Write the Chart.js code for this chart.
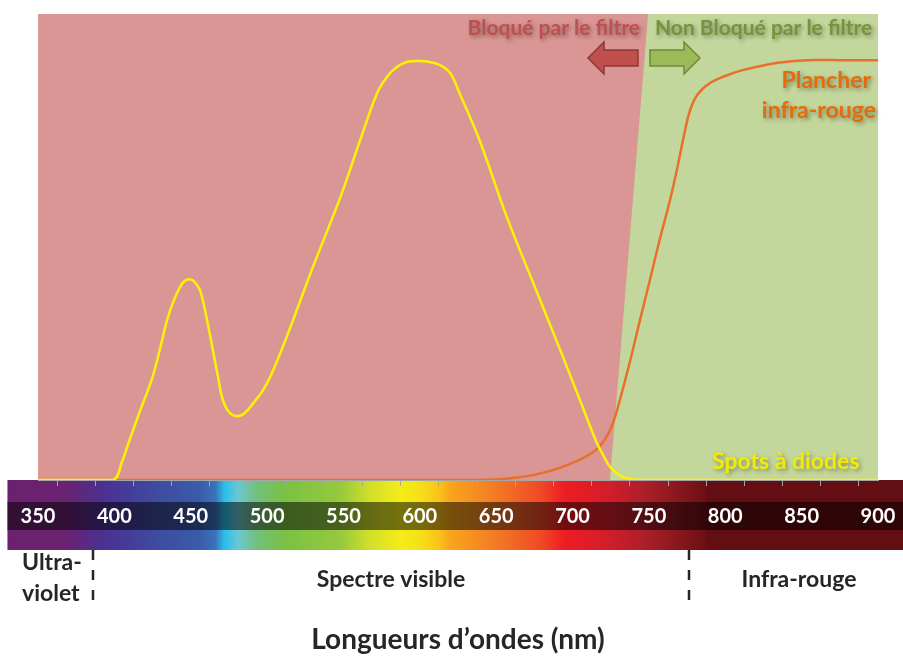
<!DOCTYPE html>
<html>
<head>
<meta charset="utf-8">
<script src="https://cdn.jsdelivr.net/npm/chart.js@4/dist/chart.umd.min.js"></script>
<style>
  html, body { margin: 0; padding: 0; background: #fff; }
  canvas { display: block; }
</style>
</head>
<body>
<canvas id="chart" width="903" height="660"></canvas>
<script>
// wavelengths (nm) and relative intensity
const ledNm = [350, 399, 405, 410, 417, 425, 430, 434.5, 439, 443, 446, 449, 452, 456, 460, 464.5, 468, 471, 475, 480, 485.5, 491, 497, 502, 512, 530, 548, 561, 572, 578.5, 585, 591.5, 599.5, 606.5, 613, 620, 626, 639, 657, 673.5, 694, 705, 716, 720, 724.5, 733, 741, 749, 900];
const ledVal = [0, 0, 3.9, 8.6, 15, 22.1, 28.3, 34.3, 38.6, 41.4, 42.7, 43.1, 42.7, 40.8, 35.4, 27.9, 21.9, 17.2, 14.6, 13.7, 14.4, 16.5, 19.1, 22.1, 30, 45.7, 60.7, 73, 83, 86.5, 88.6, 89.7, 89.9, 89.7, 89.1, 87.3, 83, 73, 56.4, 42.9, 26.2, 17, 7.9, 5.4, 2.8, 0.6, 0.1, 0, 0];

const irNm = [350, 639, 665.5, 685, 703, 714.5, 721, 726, 731, 737.5, 744, 750.5, 757, 764, 769, 773, 777, 782, 790, 800, 809.5, 822.5, 836, 853.5, 875, 900];
const irVal = [0, 0, 0.6, 1.9, 4.1, 6.2, 8.6, 11.8, 17.2, 25.3, 34.1, 42.7, 51.5, 60.3, 67.6, 74, 79.4, 82.8, 85.2, 86.7, 87.8, 88.8, 89.6, 90.1, 90.1, 90.1];

// filter edge: blocked below, passes above (slanted boundary)
const filterNm = [724.5, 749.5, 900];
const filterVal = [0, 100, 100];
const blockedNm = [350, 900];
const blockedVal = [100, 100];

const xTicks = [350, 400, 450, 500, 550, 600, 650, 700, 750, 800, 850, 900];
const regionEdges = [386, 776];

const font = 'Lato, "Open Sans", sans-serif';

function pts(xs, ys) {
  return xs.map((x, i) => ({ x: x, y: ys[i] }));
}

const spectrumStops = [
  [330, '#6b2170'], [369, '#6a2371'], [387, '#512d8a'], [399, '#483596'],
  [430, '#3e4ca0'], [456, '#3a5caa'], [466, '#3a72b9'], [472, '#2bbdeb'],
  [481, '#6bc7d2'], [494, '#72c07a'], [512, '#7ac143'], [548, '#96c93d'],
  [567, '#d1de2a'], [587, '#f4ec19'], [600, '#f5e118'], [613, '#fac11a'],
  [620, '#f9a51b'], [639, '#f58a23'], [659, '#f26b25'], [679, '#ef4a25'],
  [695, '#ed1c24'], [711, '#e01d26'], [724, '#d01e2a'], [744, '#b21f2b'],
  [764, '#8f1a20'], [783, '#731216'], [787.5, '#6a0f14'], [788, '#620e12'],
  [917, '#620e12']
];

const spectrumPlugin = {
  id: 'spectrum',
  beforeDraw(chart) {
    const ctx = chart.ctx;
    const x = chart.scales.x;
    const area = chart.chartArea;
    const x0 = x.getPixelForValue(330);
    const x1 = chart.width;
    const top = area.bottom;
    const grad = ctx.createLinearGradient(x0, 0, x.getPixelForValue(917), 0);
    spectrumStops.forEach(s => grad.addColorStop((s[0] - 330) / (917 - 330), s[1]));
    ctx.save();
    ctx.fillStyle = grad;
    ctx.fillRect(x0, top, x1 - x0, 70);
    ctx.fillStyle = 'rgba(0,0,0,0.52)';
    ctx.fillRect(x0, top + 22, x1 - x0, 28);
    ctx.restore();
  },
  afterDatasetsDraw(chart) {
    const ctx = chart.ctx;

    ctx.save();
    ctx.shadowColor = 'rgba(0,0,0,0.35)';
    ctx.shadowBlur = 4;
    ctx.shadowOffsetX = 2;
    ctx.shadowOffsetY = 2;
    ctx.textBaseline = 'middle';

    ctx.font = 'bold 21px ' + font;
    ctx.fillStyle = '#c0504d';
    ctx.textAlign = 'right';
    ctx.fillText('Bloqué par le filtre', 640, 28);
    ctx.fillStyle = '#77933c';
    ctx.textAlign = 'left';
    ctx.fillText('Non Bloqué par le filtre', 655, 28);

    ctx.font = 'bold 23px ' + font;
    ctx.fillStyle = '#e46c0a';
    ctx.textAlign = 'right';
    ctx.fillText('Plancher', 871, 81);
    ctx.fillText('infra-rouge', 876, 111);

    ctx.fillStyle = '#f2ea0a';
    ctx.textAlign = 'left';
    ctx.fillText('Spots à diodes', 712, 462);
    ctx.restore();

    // arrows
    ctx.save();
    ctx.lineWidth = 1.5;
    ctx.beginPath();
    ctx.moveTo(588, 58); ctx.lineTo(604, 42); ctx.lineTo(604, 50); ctx.lineTo(638, 50);
    ctx.lineTo(638, 66); ctx.lineTo(604, 66); ctx.lineTo(604, 74); ctx.closePath();
    ctx.fillStyle = '#c0504d';
    ctx.strokeStyle = '#8c3836';
    ctx.fill(); ctx.stroke();
    ctx.beginPath();
    ctx.moveTo(700, 58); ctx.lineTo(684, 42); ctx.lineTo(684, 50); ctx.lineTo(650, 50);
    ctx.lineTo(650, 66); ctx.lineTo(684, 66); ctx.lineTo(684, 74); ctx.closePath();
    ctx.fillStyle = '#9bbb59';
    ctx.strokeStyle = '#71893f';
    ctx.fill(); ctx.stroke();
    ctx.restore();
  },
  afterDraw(chart) {
    const ctx = chart.ctx;
    const x = chart.scales.x;
    const base = chart.chartArea.bottom + 70;
    ctx.save();
    ctx.strokeStyle = '#262626';
    ctx.lineWidth = 2.5;
    ctx.setLineDash([10, 10]);
    regionEdges.forEach(v => {
      const px = Math.round(x.getPixelForValue(v));
      ctx.beginPath();
      ctx.moveTo(px, base);
      ctx.lineTo(px, base + 53);
      ctx.stroke();
    });
    ctx.setLineDash([]);
    ctx.fillStyle = '#262626';
    ctx.font = 'bold 23px ' + font;
    ctx.textBaseline = 'middle';
    ctx.textAlign = 'left';
    ctx.fillText('Ultra-', 22, base + 13);
    ctx.fillText('violet', 22, base + 44);
    ctx.textAlign = 'center';
    ctx.fillText('Spectre visible', 391, base + 30);
    ctx.fillText('Infra-rouge', 799, base + 30);
    ctx.restore();
  }
};

new Chart(document.getElementById('chart'), {
  type: 'line',
  data: {
    datasets: [
      {
        label: 'Spots à diodes',
        data: pts(ledNm, ledVal),
        borderColor: '#fff200',
        borderWidth: 2.5,
        pointRadius: 0,
        tension: 0.35,
        fill: false,
        order: 0
      },
      {
        label: 'Plancher infra-rouge',
        data: pts(irNm, irVal),
        borderColor: '#e8702a',
        borderWidth: 2.5,
        pointRadius: 0,
        tension: 0.35,
        fill: false,
        order: 1
      },
      {
        label: 'Non bloqué',
        data: pts(filterNm, filterVal),
        borderWidth: 0,
        borderColor: 'rgba(0,0,0,0)',
        backgroundColor: '#c3d69b',
        pointRadius: 0,
        tension: 0,
        fill: 'origin',
        order: 2
      },
      {
        label: 'Bloqué',
        data: pts(blockedNm, blockedVal),
        borderWidth: 0,
        borderColor: 'rgba(0,0,0,0)',
        backgroundColor: '#d99694',
        pointRadius: 0,
        tension: 0,
        fill: 'origin',
        order: 3
      }
    ]
  },
  options: {
    responsive: false,
    animation: false,
    layout: { padding: { left: 38, right: 25, top: 14, bottom: 0 } },
    plugins: {
      legend: { display: false },
      tooltip: { enabled: false }
    },
    scales: {
      x: {
        type: 'linear',
        min: 350,
        max: 900,
        afterFit: scale => {
          scale.height = 180;
          scale.paddingLeft = 0;
          scale.paddingRight = 0;
        },
        afterBuildTicks: scale => {
          scale.ticks = [];
          for (let v = 350; v <= 900; v += 25) scale.ticks.push({ value: v });
        },
        ticks: {
          autoSkip: false,
          maxRotation: 0,
          padding: 19,
          color: '#ffffff',
          font: { family: font, size: 20, weight: 'bold' },
          callback: v => xTicks.includes(v) ? String(v) : ''
        },
        grid: {
          drawOnChartArea: false,
          drawTicks: true,
          tickLength: 6,
          offset: true,
          color: '#a6a6a6'
        },
        border: { display: true, color: '#a6a6a6' },
        title: {
          display: true,
          text: 'Longueurs d’ondes (nm)',
          color: '#262626',
          font: { family: font, size: 28, weight: 'bold' },
          padding: { top: 0, bottom: 3 }
        }
      },
      y: {
        display: false,
        min: 0,
        max: 100
      }
    }
  },
  plugins: [spectrumPlugin]
});
</script>
</body>
</html>
